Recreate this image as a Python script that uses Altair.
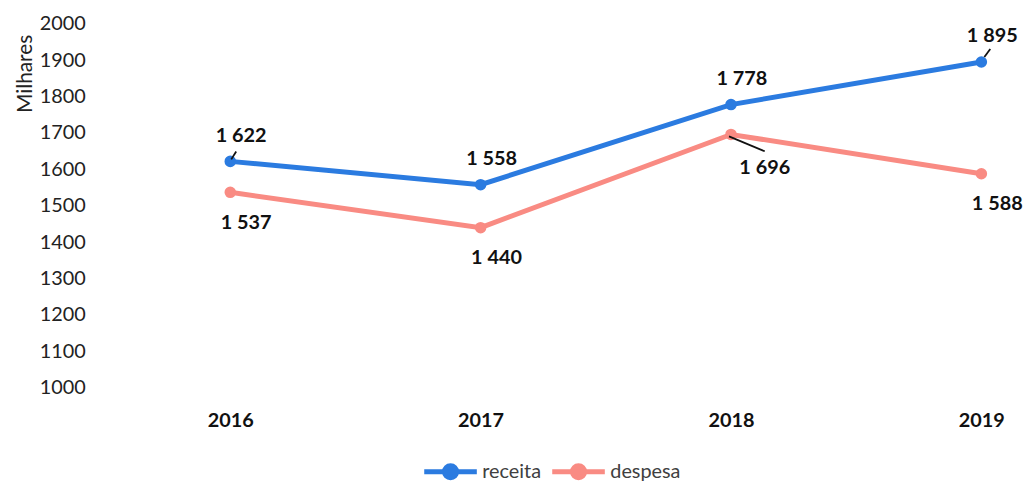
import altair as alt
import pandas as pd

years = ["2016", "2017", "2018", "2019"]
receita = [1622, 1558, 1778, 1895]
despesa = [1537, 1440, 1696, 1588]
series_names = ["receita", "despesa"]
colors = ["#2B7BE0", "#F98B83"]
y_ticks = [1000, 1100, 1200, 1300, 1400, 1500, 1600, 1700, 1800, 1900, 2000]

rows = []
for name, vals in zip(series_names, [receita, despesa]):
    for yr, v in zip(years, vals):
        rows.append({"ano": yr, "serie": name, "valor": v,
                     "rotulo": f"{v:,}".replace(",", " ")})
df = pd.DataFrame(rows)

FONT = "Lato"
x_enc = alt.X("ano:O", scale=alt.Scale(type="point", range=[137, 894], padding=0),
              axis=alt.Axis(title=None, labelAngle=0, domain=False, ticks=False,
                            grid=False, labelFont=FONT, labelFontSize=20,
                            labelFontWeight="bold", labelColor="#111111",
                            labelPadding=23, labelBaseline="top"))
y_enc = alt.Y("valor:Q", scale=alt.Scale(domain=[1000, 2000], nice=False, zero=False),
              axis=alt.Axis(title="Milhares", values=y_ticks, tickCount=11, format="d",
                            labelOverlap=False, labelSeparation=0,
                            domain=False, ticks=False,
                            grid=False, labelFont=FONT, labelFontSize=20,
                            labelColor="#222222", labelPadding=9,
                            titleFont=FONT, titleFontSize=21, titleFontWeight="normal",
                            titleColor="#222222", titleAngle=-90, titleX=-63, titleY=50,
                            titleAlign="center", titleBaseline="alphabetic"))

sym = "M -1 0 L 1 0 M 0.23 0 A 0.23 0.23 0 1 1 -0.23 0 A 0.23 0.23 0 1 1 0.23 0 Z"
color_enc = alt.Color("serie:N",
                      scale=alt.Scale(domain=series_names, range=colors),
                      legend=alt.Legend(title=None, orient="none", direction="horizontal",
                                        legendX=330, legendY=422,
                                        symbolType=sym, symbolSize=2809,
                                        symbolStrokeWidth=5, labelFont=FONT,
                                        labelFontSize=20, labelColor="#404040",
                                        labelOffset=3, columnPadding=0))

base = alt.Chart(df).encode(x=x_enc, y=y_enc)
lines = base.mark_line(strokeWidth=5).encode(color=color_enc, detail="serie:N")
points = base.mark_circle(size=135, opacity=1).encode(
    color=alt.Color("serie:N", scale=alt.Scale(domain=series_names, range=colors), legend=None))

txt = dict(font=FONT, fontSize=20, fontWeight="bold", color="#111111")
lab_r = base.transform_filter("datum.serie == 'receita'").mark_text(
    dx=11, dy=-26, **txt).encode(text="rotulo:N")
lab_d = base.transform_filter("datum.serie == 'despesa' && datum.ano != '2018'").mark_text(
    dx=16, dy=31, **txt).encode(text="rotulo:N")
lab_d18 = base.transform_filter("datum.serie == 'despesa' && datum.ano == '2018'").mark_text(
    dx=34, dy=34, **txt).encode(text="rotulo:N")

def leader(cond, xo, yo, x2o, y2o):
    return base.transform_filter(cond).mark_rule(
        color="#111111", strokeWidth=1.8, xOffset=xo, yOffset=yo,
        x2Offset=x2o, y2Offset=y2o).encode(x2="ano:O", y2="valor:Q")

l1 = leader("datum.serie == 'receita' && datum.ano == '2016'", 1, -2, 6, -10)
l2 = leader("datum.serie == 'despesa' && datum.ano == '2018'", -2, 2, 34, 17)
l3 = leader("datum.serie == 'receita' && datum.ano == '2019'", 3, -5, 9, -13)

chart = alt.layer(lines, points, l1, l2, l3, lab_r, lab_d, lab_d18).properties(
    width=930, height=367,
    autosize=alt.AutoSizeParams(type="none"),
    padding={"left": 87, "top": 14, "right": 11, "bottom": 92},
).configure(background="white").configure_view(stroke=None)

chart.save("out.html", embed_options={"renderer": "svg", "actions": False})
